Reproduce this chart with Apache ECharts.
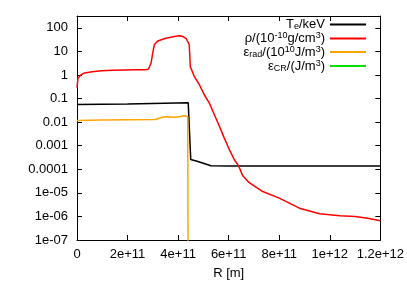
<!DOCTYPE html>
<html><head><meta charset="utf-8">
<script src="https://cdn.jsdelivr.net/npm/echarts@6/dist/echarts.min.js"></script>
<style>html,body{margin:0;padding:0;background:#fff}#c{width:407px;height:285px}</style>
</head><body><div id="c"></div>
<script>
const xTickLabels = ['0','2e+11','4e+11','6e+11','8e+11','1e+12','1.2e+12'];
const yTickLabels = ['1e-07','1e-06','1e-05','0.0001','0.001','0.01','0.1','1','10','100'];

// T_e / keV
const teR = [0, 2.0e11, 4.4e11, 4.46e11, 4.5e11, 4.75e11, 5.3e11, 6.0e11, 1.2e12];
const teV = [0.056, 0.059, 0.066, 0.075, 2.6e-4, 2.2e-4, 1.4e-4, 1.36e-4, 1.38e-4];

// rho / (1e-10 g/cm^3)
const rhoR = [0, 0.04e11, 0.15e11, 0.3e11, 0.6e11, 0.96e11, 1.4e11, 1.88e11, 2.4e11, 2.74e11, 2.83e11,
  2.93e11, 3.0e11, 3.06e11, 3.18e11, 3.33e11, 3.52e11, 3.85e11, 4.05e11, 4.18e11, 4.32e11, 4.44e11,
  4.47e11, 4.48e11, 4.64e11, 4.84e11, 5.03e11, 5.23e11, 5.43e11, 5.63e11, 5.82e11, 6.02e11, 6.22e11,
  6.4e11, 6.55e11, 6.8e11, 7.3e11, 8.0e11, 8.8e11, 9.6e11, 1.04e12, 1.1e12, 1.15e12, 1.2e12];
const rhoV = [0.29, 0.75, 1.0, 1.22, 1.38, 1.51, 1.57, 1.62, 1.66, 1.68, 1.8,
  3.2, 9, 19, 27, 31, 36, 43, 46, 43, 35, 19,
  4.5, 2.3, 0.87, 0.39, 0.148, 0.066, 0.021, 6.8e-3, 2.2e-3, 7.1e-4, 2.6e-4,
  1.35e-4, 5.5e-5, 2.75e-5, 1.2e-5, 6.0e-6, 2.24e-6, 1.3e-6, 1.07e-6, 1.0e-6, 8.3e-7, 6.6e-7];

// eps_rad / (1e10 J/m^3)
const eradR = [0, 1.0e11, 2.0e11, 3.1e11, 3.45e11, 3.5e11, 3.9e11, 4.25e11, 4.38e11, 4.42e11];
const eradV = [0.0117, 0.0122, 0.0125, 0.0128, 0.017, 0.0155, 0.0162, 0.0186, 0.017, 1e-20];

// eps_CR / (J/m^3)
const ecrR = [0, 1.2e12];
const ecrV = [0, 0];

const FONT = 'Liberation Sans';
const toLog = v => v > 0 ? Math.log10(v) : null;
const pairs = (R, V) => R.map((r, i) => [r, toLog(V[i])]);

const legendText = {
  Te: '{t|T}{sub|e}{t|/keV}',
  rho: '{t|ρ/(10}{sup|-10}{t|g/cm}{sup|3}{t|)}',
  erad: '{t|ε}{sub|rad}{t|/(10}{sup|10}{t|J/m}{sup|3}{t|)}',
  ecr: '{t|ε}{sub|CR}{t|/(J/m}{sup|3}{t|)}'
};

const chart = echarts.init(document.getElementById('c'), null, {renderer: 'canvas'});
const mk = (name, R, V, color) => ({
  name, type: 'line', data: pairs(R, V), symbol: 'none', clip: true,
  lineStyle: {color, width: 1.5}, itemStyle: {color}, connectNulls: false
});
const axisCommon = () => ({
  axisLine: {show: true, onZero: false, lineStyle: {color: '#000', width: 1}},
  axisTick: {show: true, inside: true, length: 5, lineStyle: {color: '#000'}},
  splitLine: {show: false}
});
chart.setOption({
  animation: false,
  backgroundColor: '#fff',
  grid: {left: 77, right: 25, top: 16, bottom: 44, containLabel: false},
  legend: {
    orient: 'vertical', right: 41, top: 18, padding: 0, itemGap: 0, align: 'right',
    icon: 'rect', itemWidth: 36, itemHeight: 2,
    data: ['Te', 'rho', 'erad', 'ecr'],
    formatter: n => legendText[n],
    textStyle: {
      color: '#000', fontFamily: FONT, fontSize: 13,
      rich: {
        t: {fontSize: 13, lineHeight: 14, fontFamily: FONT, color: '#000'},
        sub: {fontSize: 9, lineHeight: 6, verticalAlign: 'bottom', fontFamily: FONT, color: '#000'},
        sup: {fontSize: 9, lineHeight: 6, verticalAlign: 'top', fontFamily: FONT, color: '#000'}
      }
    }
  },
  xAxis: [
    Object.assign({
      type: 'value', min: 0, max: 1.2e12, interval: 2e11, position: 'bottom',
      name: 'R [m]', nameLocation: 'middle', nameGap: 27,
      nameTextStyle: {color: '#000', fontFamily: FONT, fontSize: 13},
      axisLabel: {color: '#000', fontFamily: FONT, fontSize: 13, margin: 8,
        formatter: v => xTickLabels[Math.round(v / 2e11)] || ''}
    }, axisCommon()),
    Object.assign({
      type: 'value', min: 0, max: 1.2e12, interval: 2e11, position: 'top',
      axisLabel: {show: false}
    }, axisCommon())
  ],
  yAxis: [
    Object.assign({
      type: 'value', min: -7, max: 2.5, interval: 1, position: 'left',
      axisLabel: {color: '#000', fontFamily: FONT, fontSize: 13, margin: 9,
        formatter: v => Number.isInteger(v) ? (yTickLabels[v + 7] || '') : ''}
    }, axisCommon()),
    Object.assign({
      type: 'value', min: -7, max: 2.5, interval: 1, position: 'right',
      axisLabel: {show: false}
    }, axisCommon())
  ],
  series: [
    mk('Te', teR, teV, '#000000'),
    mk('rho', rhoR, rhoV, '#ff0000'),
    mk('erad', eradR, eradV, '#ffa500'),
    mk('ecr', ecrR, ecrV, '#00e000')
  ]
});
</script></body></html>
